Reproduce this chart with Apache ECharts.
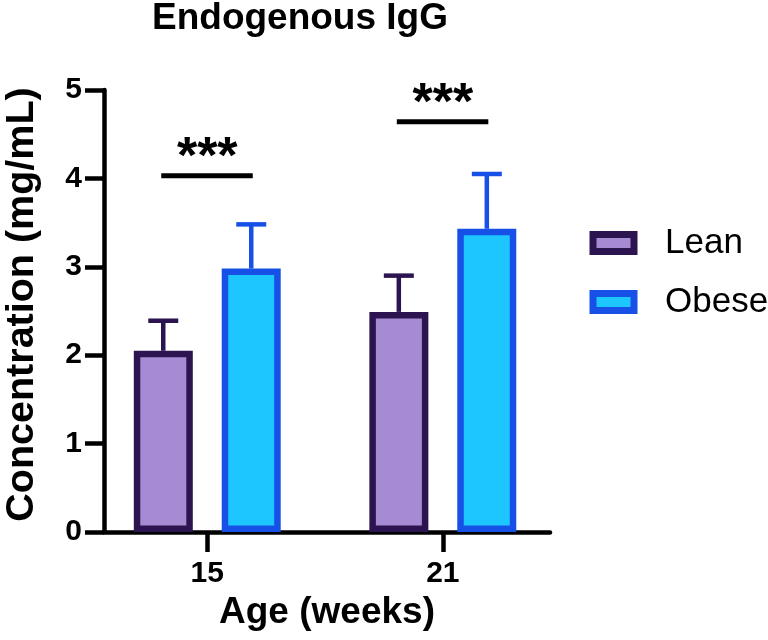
<!DOCTYPE html>
<html>
<head>
<meta charset="utf-8">
<script src="https://cdn.jsdelivr.net/npm/echarts@6/dist/echarts.min.js"></script>
<style>
  html, body { margin: 0; padding: 0; background: #fff; }
  #main { width: 768px; height: 640px; }
</style>
</head>
<body>
<div id="main"></div>
<script>
// ages (weeks) on the x axis
var ages = [15, 21];
var ageTicks = [15, 21];
// mean and SD per group
var leanMean = [2.05, 2.49];
var leanSD = [0.34, 0.41];
var obeseMean = [2.98, 3.43];
var obeseSD = [0.50, 0.62];
// significance bars
var sigY = [4.03, 4.64];
var sigText = ['***', '***'];

var FONT = 'Liberation Sans, Arial, sans-serif';
var LEAN_FILL = '#a68bd3', LEAN_LINE = '#2c1450';
var OBESE_FILL = '#1ec6ff', OBESE_LINE = '#1650e6';
var BAR_SHIFT = 44; // px from category centre

function pairs(xs, ys, extra) {
  return xs.map(function (x, i) {
    return extra ? [x, ys[i], extra[i]] : [x, ys[i]];
  });
}

// error bar drawn upward from bar top
function errorItem(shift, color) {
  return function (params, api) {
    var x = api.value(0), m = api.value(1), sd = api.value(2);
    var p0 = api.coord([x, m]);
    var p1 = api.coord([x, m + sd]);
    var cx = p0[0] + shift;
    return {
      type: 'group',
      children: [
        { type: 'line', shape: { x1: cx, y1: p0[1], x2: cx, y2: p1[1] }, style: { stroke: color, lineWidth: 4.5 } },
        { type: 'line', shape: { x1: cx - 15, y1: p1[1], x2: cx + 15, y2: p1[1] }, style: { stroke: color, lineWidth: 4.5 } }
      ]
    };
  };
}

function sigItem(params, api) {
  var p = api.coord([api.value(0), api.value(1)]);
  return {
    type: 'group',
    children: [
      { type: 'line', shape: { x1: p[0] - 46, y1: p[1], x2: p[0] + 45.5, y2: p[1] }, style: { stroke: '#000', lineWidth: 5 } },
      { type: 'text', x: p[0], y: p[1] + 9, style: { text: sigText[params.dataIndex], fill: '#000', font: 'bold 52px ' + FONT, textAlign: 'center', textVerticalAlign: 'bottom' } }
    ]
  };
}

var chart = echarts.init(document.getElementById('main'));

var option = {
  backgroundColor: '#fff',
  animation: false,
  title: {
    text: 'Endogenous IgG',
    left: 295,
    textAlign: 'center',
    top: -5,
    textStyle: { fontFamily: FONT, fontWeight: 'bold', fontSize: 37, color: '#000' }
  },
  legend: {
    orient: 'vertical',
    left: 584.5,
    top: 220,
    icon: 'rect',
    itemWidth: 41,
    itemHeight: 17,
    itemGap: 23,
    itemStyle: { borderWidth: 7 },
    textStyle: { fontFamily: FONT, fontSize: 35, color: '#000', lineHeight: 36, padding: [0, 0, 0, 26] },
    data: ['Lean', 'Obese']
  },
  grid: { left: 104, right: 218, top: 90, bottom: 108, outerBoundsMode: 'none', containLabel: false },
  xAxis: {
    type: 'value',
    min: 12.37,
    max: 23.73,
    name: 'Age (weeks)',
    nameLocation: 'middle',
    nameGap: 60,
    nameTextStyle: { fontFamily: FONT, fontWeight: 'bold', fontSize: 37, color: '#000' },
    splitLine: { show: false },
    axisLine: { lineStyle: { color: '#000', width: 4.5 } },
    axisTick: { length: 20, lineStyle: { color: '#000', width: 4.5 }, customValues: ageTicks },
    axisLabel: { customValues: ageTicks, margin: 27, fontFamily: FONT, fontWeight: 'bold', fontSize: 30, color: '#000' }
  },
  yAxis: {
    type: 'value',
    min: 0,
    max: 5,
    interval: 1,
    name: 'Concentration (mg/mL)',
    nameLocation: 'middle',
    nameGap: 62,
    nameTextStyle: { fontFamily: FONT, fontWeight: 'bold', fontSize: 39.5, color: '#000', padding: [0, 0, 0, 13] },
    splitLine: { show: false },
    axisLine: { show: true, onZero: false, lineStyle: { color: '#000', width: 4.5 } },
    axisTick: { show: true, length: 19, lineStyle: { color: '#000', width: 4.5 } },
    axisLabel: { margin: 22, fontFamily: FONT, fontWeight: 'bold', fontSize: 30, color: '#000' }
  },
  series: [
    {
      name: 'Lean',
      type: 'bar',
      barWidth: 59,
      barGap: '49%',
      itemStyle: { color: LEAN_FILL, borderColor: LEAN_LINE, borderWidth: 6.5 },
      data: pairs(ages, leanMean)
    },
    {
      name: 'Obese',
      type: 'bar',
      barWidth: 59,
      barGap: '49%',
      itemStyle: { color: OBESE_FILL, borderColor: OBESE_LINE, borderWidth: 6.5 },
      data: pairs(ages, obeseMean)
    },
    {
      type: 'custom',
      renderItem: errorItem(-BAR_SHIFT, LEAN_LINE),
      data: pairs(ages, leanMean, leanSD),
      z: 1
    },
    {
      type: 'custom',
      renderItem: errorItem(BAR_SHIFT, OBESE_LINE),
      data: pairs(ages, obeseMean, obeseSD),
      z: 1
    },
    {
      type: 'custom',
      renderItem: sigItem,
      data: pairs(ages, sigY),
      z: 3
    }
  ]
};

chart.setOption(option);
</script>
</body>
</html>
